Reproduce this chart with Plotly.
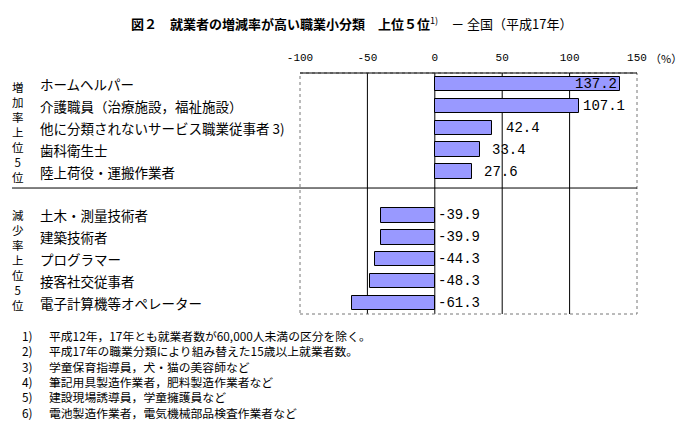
import plotly.graph_objects as go

# ---- data ----
inc_labels = ["ホームヘルパー", "介護職員（治療施設，福祉施設）",
              "他に分類されないサービス職業従事者 3)", "歯科衛生士", "陸上荷役・運搬作業者"]
inc_values = [137.2, 107.1, 42.4, 33.4, 27.6]
dec_labels = ["土木・測量技術者", "建築技術者", "プログラマー", "接客社交従事者", "電子計算機等オペレーター"]
dec_values = [-39.9, -39.9, -44.3, -48.3, -61.3]
x_ticks = [-100, -50, 0, 50, 100, 150]
grid_vals = [-50, 0, 50, 100]
inc_group = "増加率上位5位"
dec_group = "減少率上位5位"
footnote_nums = ["1)", "2)", "3)", "4)", "5)", "6)"]
footnote_texts = [
    "平成12年，17年とも就業者数が60,000人未満の区分を除く。",
    "平成17年の職業分類により組み替えた15歳以上就業者数。",
    "学童保育指導員，犬・猫の美容師など",
    "筆記用具製造作業者，肥料製造作業者など",
    "建設現場誘導員，学童擁護員など",
    "電池製造作業者，電気機械部品検査作業者など",
]
title_bold = "図２　就業者の増減率が高い職業小分類　上位５位"
title_rest = "－ 全国（平成17年）"

# ---- layout geometry ----
W, H = 681, 424
L, R, T, B = 300, 637, 73, 314

def px(xp):
    return (xp - L) / (R - L)

def py(yp):
    return (B - yp) / (B - T)

labels = inc_labels + [""] + dec_labels
values = inc_values + [None] + dec_values
ypos = list(range(len(labels)))

JP = "Noto Sans CJK JP"
MONO = "Liberation Mono"

fig = go.Figure()
fig.add_trace(go.Bar(
    x=values, y=ypos, orientation="h", width=0.66,
    marker=dict(color="#9999FF", line=dict(color="black", width=1)),
    hoverinfo="skip",
))

ann = []
vfont = dict(family=MONO, size=14, color="black")
# value labels
for i, v in enumerate(values):
    if v is None:
        continue
    if v > 120:
        ann.append(dict(x=v, y=i, text=f"{v:.1f}", showarrow=False, xanchor="right",
                        xshift=-1, font=vfont))
    elif v > 0:
        ann.append(dict(x=max(v, 50) if v > 40 else v + 6, y=i, text=f"{v:.1f}", showarrow=False,
                        xanchor="left", xshift=2, font=vfont))
    else:
        ann.append(dict(x=0, y=i, text=f"{v:.1f}", showarrow=False, xanchor="left",
                        xshift=1, font=vfont))
# category labels
for i, lab in enumerate(labels):
    if lab:
        ann.append(dict(x=px(38), xref="paper", y=i, text=lab, showarrow=False,
                        xanchor="left", yanchor="middle",
                        font=dict(family=JP, size=13.5, color="black")))
# vertical group labels, one character per line
for chars, yc in ((inc_group, 132), (dec_group, 260)):
    ann.append(dict(x=px(18), xref="paper", y=py(yc), yref="paper",
                    text="<br>".join(chars), showarrow=False, xanchor="center", yanchor="middle",
                    align="center", font=dict(family=JP, size=11.5, color="black")))
# title
ann.append(dict(x=px(129), xref="paper", y=py(23), yref="paper", xanchor="left", yanchor="middle",
                text=f"<b>{title_bold}</b><sup>1)</sup>　{title_rest}", showarrow=False,
                font=dict(family=JP, size=13, color="black")))
# percent unit
ann.append(dict(x=px(648), xref="paper", y=py(58), yref="paper", xanchor="left", yanchor="middle",
                text="（%）", showarrow=False, font=dict(family=JP, size=11, color="black")))
# footnotes (two columns, one block each)
fn_font = dict(family=JP, size=11.8, color="black")
fn_center = 335 + 2.5 * 15.4
ann.append(dict(x=px(20), xref="paper", y=py(fn_center), yref="paper", xanchor="left",
                yanchor="middle", align="left", text="<br>".join(footnote_nums),
                showarrow=False, font=fn_font))
ann.append(dict(x=px(47), xref="paper", y=py(fn_center), yref="paper", xanchor="left",
                yanchor="middle", align="left", text="<br>".join(footnote_texts),
                showarrow=False, font=fn_font))

shapes = []
for g in grid_vals:
    shapes.append(dict(type="line", x0=g, x1=g, y0=0, y1=1, xref="x", yref="paper",
                       line=dict(color="black", width=1), layer="below"))
shapes.append(dict(type="rect", x0=0, x1=1, y0=0, y1=1, xref="paper", yref="paper",
                   line=dict(color="#777777", width=1, dash="dot")))
shapes.append(dict(type="line", x0=0, x1=1, y0=1, y1=1, xref="paper", yref="paper",
                   line=dict(color="black", width=1)))
shapes.append(dict(type="line", x0=px(12), x1=1, y0=4.75, y1=4.75, xref="paper", yref="y",
                   line=dict(color="black", width=1)))

fig.update_layout(
    width=W, height=H, margin=dict(l=L, r=W - R, t=T, b=H - B),
    paper_bgcolor="white", plot_bgcolor="white", showlegend=False,
    bargap=0,
    xaxis=dict(range=[-100, 150], side="top", tickvals=x_ticks,
               ticktext=[str(t) for t in x_ticks],
               showgrid=False, zeroline=False, showline=False, ticks="",
               ticklabelstandoff=9,
               tickfont=dict(family=MONO, size=11, color="black")),
    yaxis=dict(range=[len(labels) - 0.5, -0.5], showticklabels=False, showgrid=False,
               zeroline=False, showline=False, ticks=""),
    annotations=ann, shapes=shapes,
)

fig.write_html("out.html")
